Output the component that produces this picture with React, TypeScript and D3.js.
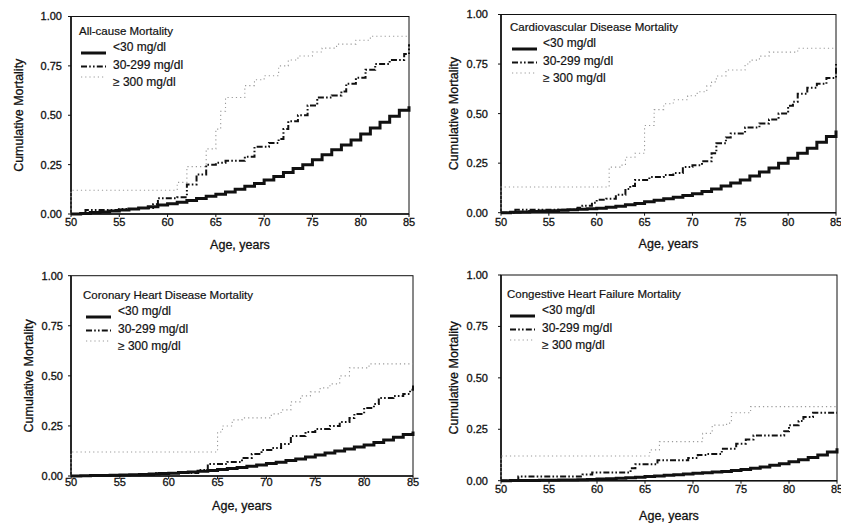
import React from "react";
import * as d3 from "d3";

// ---------- DATA ----------
const AGES = [50, 51, 52, 53, 54, 55, 56, 57, 58, 59, 60, 61, 62, 63, 64, 65, 66, 67, 68, 69, 70, 71, 72, 73, 74, 75, 76, 77, 78, 79, 80, 81, 82, 83, 84, 85];
const X_TICKS = [50, 55, 60, 65, 70, 75, 80, 85];
const Y_TICKS = [0, 0.25, 0.5, 0.75, 1.0];
const SERIES_LABELS = ["<30 mg/dl", "30-299 mg/dl", "\u2265 300 mg/dl"];
const PANEL_TITLES = [
  "All-cause Mortality",
  "Cardiovascular Disease Mortality",
  "Coronary Heart Disease Mortality",
  "Congestive Heart Failure Mortality",
];

// <30 mg/dl (yearly values)
const ALL_LOW = [0, 0.003, 0.007, 0.01, 0.015, 0.02, 0.025, 0.03, 0.037, 0.045, 0.052, 0.06, 0.068, 0.078, 0.09, 0.1, 0.112, 0.125, 0.14, 0.155, 0.172, 0.19, 0.21, 0.23, 0.25, 0.275, 0.3, 0.325, 0.35, 0.375, 0.405, 0.435, 0.465, 0.495, 0.525, 0.545];
const CVD_LOW = [0, 0.002, 0.004, 0.006, 0.008, 0.01, 0.012, 0.015, 0.018, 0.02, 0.023, 0.028, 0.033, 0.04, 0.047, 0.055, 0.063, 0.07, 0.078, 0.087, 0.095, 0.107, 0.12, 0.135, 0.15, 0.165, 0.185, 0.205, 0.225, 0.25, 0.275, 0.3, 0.325, 0.355, 0.385, 0.415];
const CHD_LOW = [0, 0.001, 0.002, 0.003, 0.004, 0.005, 0.006, 0.008, 0.01, 0.012, 0.014, 0.017, 0.02, 0.024, 0.028, 0.033, 0.038, 0.043, 0.049, 0.055, 0.062, 0.069, 0.077, 0.085, 0.095, 0.105, 0.115, 0.125, 0.135, 0.145, 0.155, 0.167, 0.18, 0.193, 0.207, 0.222];
const CHF_LOW = [0, 0.0005, 0.001, 0.0015, 0.002, 0.002, 0.003, 0.004, 0.005, 0.006, 0.008, 0.01, 0.012, 0.014, 0.017, 0.02, 0.023, 0.026, 0.029, 0.032, 0.036, 0.039, 0.042, 0.045, 0.049, 0.054, 0.06, 0.067, 0.075, 0.083, 0.092, 0.102, 0.113, 0.125, 0.14, 0.158];

// 30-299 mg/dl (step change points: [age, cumulative mortality])
const ALL_MID: [number, number][] = [[50, 0], [51.5, 0.02], [55, 0.025], [57, 0.03], [58.5, 0.05], [59, 0.08], [61, 0.085], [62, 0.15], [63, 0.2], [64, 0.25], [65, 0.26], [66, 0.27], [68, 0.29], [69, 0.34], [70.5, 0.36], [71.5, 0.38], [72, 0.43], [72.5, 0.47], [73.5, 0.5], [74.5, 0.55], [75.5, 0.59], [77, 0.6], [78, 0.62], [78.5, 0.66], [79.5, 0.69], [80.5, 0.73], [81.5, 0.76], [83, 0.78], [84.5, 0.81], [85, 0.86]];
const CVD_MID: [number, number][] = [[50, 0], [51.5, 0.015], [58, 0.025], [58.5, 0.035], [59.5, 0.05], [60, 0.065], [61, 0.07], [62, 0.09], [63, 0.12], [63.5, 0.135], [64, 0.165], [65.5, 0.18], [67, 0.19], [68, 0.2], [69, 0.23], [70, 0.24], [71, 0.26], [72, 0.3], [72.5, 0.35], [73.5, 0.38], [74, 0.4], [75.5, 0.43], [77, 0.45], [78, 0.47], [79, 0.5], [80, 0.54], [80.5, 0.56], [81, 0.6], [82, 0.63], [83, 0.65], [84, 0.68], [85, 0.75]];
const CHD_MID: [number, number][] = [[50, 0], [53, 0.005], [58.5, 0.015], [63, 0.03], [64, 0.06], [66, 0.07], [67.5, 0.09], [68.5, 0.11], [69.5, 0.13], [70.5, 0.14], [71.5, 0.16], [72.5, 0.2], [74, 0.22], [75, 0.235], [76.5, 0.25], [77.5, 0.27], [78.5, 0.29], [79, 0.31], [80, 0.34], [81, 0.36], [81.5, 0.39], [83, 0.4], [84, 0.41], [84.7, 0.43], [85, 0.46]];
const CHF_MID: [number, number][] = [[50, 0], [51.8, 0.02], [58.5, 0.03], [59.5, 0.04], [63.5, 0.06], [64, 0.08], [66.3, 0.1], [69.5, 0.11], [70.5, 0.125], [71.5, 0.13], [73, 0.155], [74.5, 0.18], [75.5, 0.2], [76.3, 0.22], [79.5, 0.24], [80, 0.27], [81, 0.29], [81.5, 0.31], [82.5, 0.33], [85, 0.33]];

// >=300 mg/dl
const ALL_HIGH: [number, number][] = [[50, 0], [50, 0.12], [61, 0.16], [62, 0.24], [64, 0.33], [65, 0.43], [65.5, 0.52], [66, 0.59], [68, 0.65], [69, 0.68], [70, 0.7], [71.5, 0.75], [72.5, 0.78], [73.5, 0.8], [75, 0.82], [76, 0.84], [77.5, 0.86], [79.5, 0.88], [81, 0.9], [85, 0.9]];
const CVD_HIGH: [number, number][] = [[50, 0], [50, 0.13], [61.3, 0.23], [62.5, 0.24], [63, 0.28], [64, 0.3], [65, 0.44], [66, 0.52], [67, 0.55], [68, 0.57], [69.5, 0.59], [70.5, 0.61], [71.5, 0.64], [72, 0.66], [72.5, 0.69], [73.5, 0.72], [75.5, 0.75], [76, 0.77], [77, 0.79], [78, 0.81], [81, 0.83], [85, 0.83]];
const CHD_HIGH: [number, number][] = [[50, 0], [50, 0.12], [65, 0.22], [65.5, 0.25], [66.5, 0.28], [67.5, 0.29], [70.5, 0.31], [71.5, 0.33], [72.5, 0.37], [73.5, 0.4], [74.5, 0.42], [75.5, 0.44], [76.5, 0.46], [77.5, 0.5], [78.5, 0.54], [80.5, 0.56], [85, 0.56]];
const CHF_HIGH: [number, number][] = [[50, 0], [50, 0.12], [65.5, 0.15], [66.5, 0.19], [71, 0.23], [72, 0.27], [73.5, 0.28], [74, 0.33], [76, 0.36], [85, 0.36]];

// ---------- LAYOUT ----------
type Panel = {
  title: string;
  low: number[];
  mid: [number, number][];
  high: [number, number][];
  x0: number; x1: number; yTop: number; yBot: number;
  yLabX: number; xLabY: number; yTickGap: number; xTickDy: number;
  leg: { oy: number; tx: number; sx: number; lx: number };
};

const PANELS: Panel[] = [
  { title: PANEL_TITLES[0], low: ALL_LOW, mid: ALL_MID, high: ALL_HIGH,
    x0: 71, x1: 409, yTop: 16.5, yBot: 214, yLabX: 18, xLabY: 244, yTickGap: 9, xTickDy: 8,
    leg: { oy: 31, tx: 79, sx: 81, lx: 113 } },
  { title: PANEL_TITLES[1], low: CVD_LOW, mid: CVD_MID, high: CVD_HIGH,
    x0: 501, x1: 836, yTop: 14.5, yBot: 212.7, yLabX: 453, xLabY: 243, yTickGap: 13, xTickDy: 9,
    leg: { oy: 27, tx: 510, sx: 512, lx: 543 } },
  { title: PANEL_TITLES[2], low: CHD_LOW, mid: CHD_MID, high: CHD_HIGH,
    x0: 71, x1: 413, yTop: 275.7, yBot: 476, yLabX: 28, xLabY: 505, yTickGap: 8, xTickDy: 6.5,
    leg: { oy: 295, tx: 83, sx: 86, lx: 118 } },
  { title: PANEL_TITLES[3], low: CHF_LOW, mid: CHF_MID, high: CHF_HIGH,
    x0: 501, x1: 837, yTop: 275, yBot: 480.7, yLabX: 453, xLabY: 515.5, yTickGap: 13, xTickDy: 8.6,
    leg: { oy: 294, tx: 507, sx: 510, lx: 542 } },
];

const FONT = "'Liberation Sans', Arial, Helvetica, sans-serif";
const INK = "#111";
const TXT = { fontFamily: FONT, fill: INK, stroke: INK, strokeWidth: 0.3 } as const;
const STYLES = [
  { stroke: INK, width: 3, dash: undefined as string | undefined },
  { stroke: INK, width: 2, dash: "6,2.2,1.6,2.2,1.6,2.2" },
  { stroke: "#9a9a9a", width: 1.1, dash: "1.2,3" },
];

function ChartPanel({ p }: { p: Panel }) {
  const x = d3.scaleLinear().domain([50, 85]).range([p.x0, p.x1]);
  const y = d3.scaleLinear().domain([0, 1]).range([p.yBot, p.yTop]);
  const line = d3
    .line<[number, number]>()
    .x((d) => x(d[0]))
    .y((d) => y(d[1]))
    .curve(d3.curveStepAfter);
  const lowPts: [number, number][] = AGES.map((a, i) => [a, p.low[i]]);
  const seriesPts = [lowPts, p.mid, p.high];
  const fmt = d3.format(".2f");
  const midX = (p.x0 + p.x1) / 2;
  const midY = (p.yTop + p.yBot) / 2;
  const L = p.leg;
  const rowLabelY = [L.oy + 16, L.oy + 34, L.oy + 51];
  const rowSampleY = [L.oy + 22, L.oy + 35.5, L.oy + 46];

  return (
    <g>
      {/* frame */}
      <rect x={p.x0} y={p.yTop} width={p.x1 - p.x0} height={p.yBot - p.yTop} fill="none" stroke={INK} strokeWidth={1} />
      <line x1={p.x0} x2={p.x0} y1={p.yTop} y2={p.yBot} stroke={INK} strokeWidth={1.6} />
      <line x1={p.x0} x2={p.x1} y1={p.yBot} y2={p.yBot} stroke={INK} strokeWidth={1.6} />

      {/* series, drawn high -> low */}
      {[2, 1, 0].map((k) => (
        <path key={k} d={line(seriesPts[k]) || ""} fill="none" stroke={STYLES[k].stroke}
          strokeWidth={STYLES[k].width} strokeDasharray={STYLES[k].dash} />
      ))}

      {/* y axis */}
      {Y_TICKS.map((t) => (
        <g key={"y" + t}>
          <line x1={p.x0 - 3} x2={p.x0} y1={y(t)} y2={y(t)} stroke={INK} strokeWidth={1} />
          <text x={p.x0 - p.yTickGap} y={y(t)} dy="0.36em" textAnchor="end" fontSize={11} {...TXT}>
            {fmt(t)}
          </text>
        </g>
      ))}
      {/* x axis */}
      {X_TICKS.map((t) => (
        <g key={"x" + t}>
          <line x1={x(t)} x2={x(t)} y1={p.yBot} y2={p.yBot + 3} stroke={INK} strokeWidth={1} />
          <text x={x(t)} y={p.yBot + p.xTickDy} dy="0.36em" textAnchor="middle" fontSize={11} {...TXT}>
            {t}
          </text>
        </g>
      ))}
      <text x={midX} y={p.xLabY} dy="0.36em" textAnchor="middle" fontSize={12.5} {...TXT}>
        Age, years
      </text>
      <text transform={`translate(${p.yLabX},${midY}) rotate(-90)`} dy="0.36em" textAnchor="middle" fontSize={12.5} {...TXT}>
        Cumulative Mortality
      </text>

      {/* legend */}
      <text x={L.tx} y={L.oy} dy="0.36em" fontSize={11.5} {...TXT} strokeWidth={0.2}>{p.title}</text>
      {SERIES_LABELS.map((lab, k) => (
        <g key={lab}>
          <line x1={L.sx} x2={L.sx + 25} y1={rowSampleY[k]} y2={rowSampleY[k]} stroke={STYLES[k].stroke}
            strokeWidth={STYLES[k].width} strokeDasharray={STYLES[k].dash} />
          <text x={L.lx} y={rowLabelY[k]} dy="0.36em" fontSize={12} {...TXT} strokeWidth={0.2}>{lab}</text>
        </g>
      ))}
    </g>
  );
}

export default function App() {
  return (
    <svg width={841} height={523} viewBox="0 0 841 523"
      style={{ position: "absolute", left: 0, top: 0, background: "#fff" }}>
      <rect x={0} y={0} width={841} height={523} fill="#fff" />
      {PANELS.map((p, i) => (
        <ChartPanel key={i} p={p} />
      ))}
    </svg>
  );
}
